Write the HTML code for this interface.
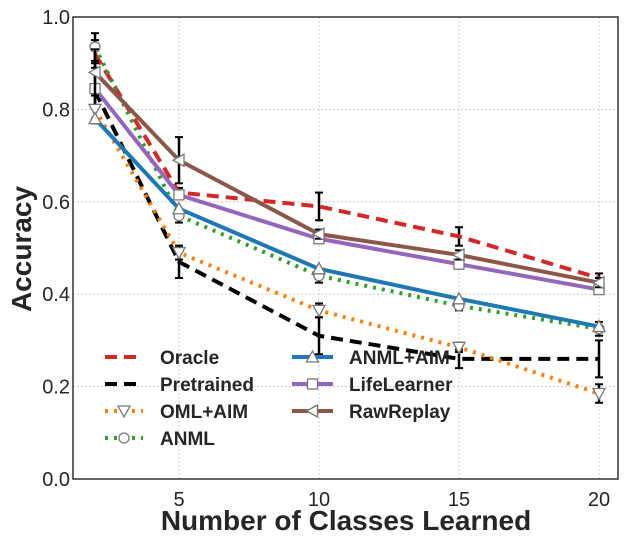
<!DOCTYPE html>
<html><head><meta charset="utf-8"><style>
body{margin:0;background:#fff}
svg{display:block;font-family:"Liberation Sans",sans-serif}
</style></head><body>
<svg id="c" width="628" height="544"></svg>
<script>
const classes=[2,5,10,15,20];
const xTicks=[5,10,15,20];
const yTicks=[0,0.2,0.4,0.6,0.8,1.0];
const seriesNames=["Oracle","Pretrained","OML+AIM","ANML","ANML+AIM","LifeLearner","RawReplay"];
const oracle=[0.92,0.62,0.59,0.525,0.435];
const pretrained=[0.84,0.47,0.31,0.26,0.26];
const omlAim=[0.80,0.49,0.365,0.285,0.185];
const anml=[0.935,0.57,0.44,0.375,0.325];
const anmlAim=[0.78,0.585,0.455,0.39,0.33];
const lifeLearner=[0.845,0.615,0.52,0.465,0.41];
const rawReplay=[0.88,0.69,0.53,0.485,0.425];
const oracleErr=[0.03,0.01,0.03,0.02,0.01];
const pretrainedErr=[0.06,0.035,0.04,0.02,0.04];
const omlAimErr=[0.03,0.015,0.015,0.01,0.02];
const anmlErr=[0.03,0.015,0.015,0.01,0.015];
const anmlAimErr=[0,0,0,0,0];
const lifeErr=[0,0,0,0,0];
const rawErr=[0.05,0.05,0.01,0.01,0.01];
const values=[oracle,pretrained,omlAim,anml,anmlAim,lifeLearner,rawReplay];
const errs=[oracleErr,pretrainedErr,omlAimErr,anmlErr,anmlAimErr,lifeErr,rawErr];
const colors=["#d62728","#000000","#ff7f0e","#2ca02c","#1f77b4","#9467bd","#8c564b"];
const dashes=["12,7","12,7","3,6","3,6","",  "", ""];
const markers=["none","none","tri-down","circle","tri-up","square","tri-left"];
const L=73,R=618,T=17,B=479;
const X=v=>95+(v-2)*28;
const Y=v=>B-(v)*(B-T);
const svg=document.getElementById('c');
const NS="http://www.w3.org/2000/svg";
function mk(t,a,p){const e=document.createElementNS(NS,t);for(const k in a)e.setAttribute(k,a[k]);(p||svg).appendChild(e);return e;}
xTicks.forEach(t=>{const g=mk('line',{x1:X(t),x2:X(t),y1:T,y2:B,stroke:'#ccc','stroke-width':1,'stroke-dasharray':'2,2'});


const tx=mk('text',{x:X(t),y:B+27,'text-anchor':'middle','font-size':20,fill:'#262626'});tx.textContent=t;

});
yTicks.forEach(t=>{const g=mk('line',{x1:L,x2:R,y1:Y(t),y2:Y(t),stroke:'#ccc','stroke-width':1,'stroke-dasharray':'2,2'});


const tx=mk('text',{x:L-3,y:Y(t)+7,'text-anchor':'end','font-size':20,fill:'#262626'});tx.textContent=t.toFixed(1);

});
function marker(type,x,y,col,g){
 const a={fill:'#fff',stroke:'#777','stroke-width':1.3};let e;
 if(type==='circle')e=mk('circle',Object.assign({cx:x,cy:y,r:5},a),g);
 else if(type==='square')e=mk('rect',Object.assign({x:x-5,y:y-5,width:10,height:10},a),g);
 else if(type==='tri-up')e=mk('polygon',Object.assign({points:`${x},${y-6} ${x-6},${y+5} ${x+6},${y+5}`},a),g);
 else if(type==='tri-down')e=mk('polygon',Object.assign({points:`${x},${y+6} ${x-6},${y-5} ${x+6},${y-5}`},a),g);
 else if(type==='tri-left')e=mk('polygon',Object.assign({points:`${x-6},${y} ${x+5},${y-6} ${x+5},${y+6}`},a),g);
 return e;
}
values.forEach((vals,i)=>{
 const g=mk('g',{});
 
 
 errs[i].forEach((e,j)=>{if(e<=0)return;const x=X(classes[j]);
  mk('line',{x1:x,x2:x,y1:Y(vals[j]+e),y2:Y(vals[j]-e),stroke:'#000','stroke-width':2.5},g);
  mk('line',{x1:x-4,x2:x+4,y1:Y(vals[j]+e),y2:Y(vals[j]+e),stroke:'#000','stroke-width':2},g);
  mk('line',{x1:x-4,x2:x+4,y1:Y(vals[j]-e),y2:Y(vals[j]-e),stroke:'#000','stroke-width':2},g);});
 const pts=vals.map((v,j)=>X(classes[j])+','+Y(v)).join(' ');
 mk('polyline',{points:pts,fill:'none',stroke:colors[i],'stroke-width':4,'stroke-dasharray':dashes[i]},g);
 if(markers[i]!=='none')vals.forEach((v,j)=>marker(markers[i],X(classes[j]),Y(v),colors[i],g));
});
mk('rect',{x:L,y:T,width:R-L,height:B-T,fill:'none',stroke:'#333','stroke-width':1.5});
const lg=mk('g',{});


seriesNames.forEach((n,i)=>{
 const col=i<4?0:1,row=i<4?i:i-4;
 const x0=col?292:105,x1=col?333:143,tx=col?349:160,y=357+row*27;
 const e=mk('g',{},lg);
 
 
 mk('line',{x1:x0,x2:x1,y1:y,y2:y,stroke:colors[i],'stroke-width':4,'stroke-dasharray':dashes[i]},e);
 if(markers[i]!=='none')marker(markers[i],(x0+x1)/2,y,colors[i],e);
 const t=mk('text',{x:tx,y:y+7,'font-size':19,'font-weight':'bold',fill:'#262626'},e);t.textContent=n;
});
const xl=mk('text',{x:346,y:530,'text-anchor':'middle','font-size':28,'font-weight':'bold',fill:'#262626'});xl.textContent='Number of Classes Learned';


const yl=mk('text',{x:0,y:0,'text-anchor':'middle','font-size':28,'font-weight':'bold',fill:'#262626',transform:'translate(31,249) rotate(-90)'});yl.textContent='Accuracy';


</script>
</body></html>
